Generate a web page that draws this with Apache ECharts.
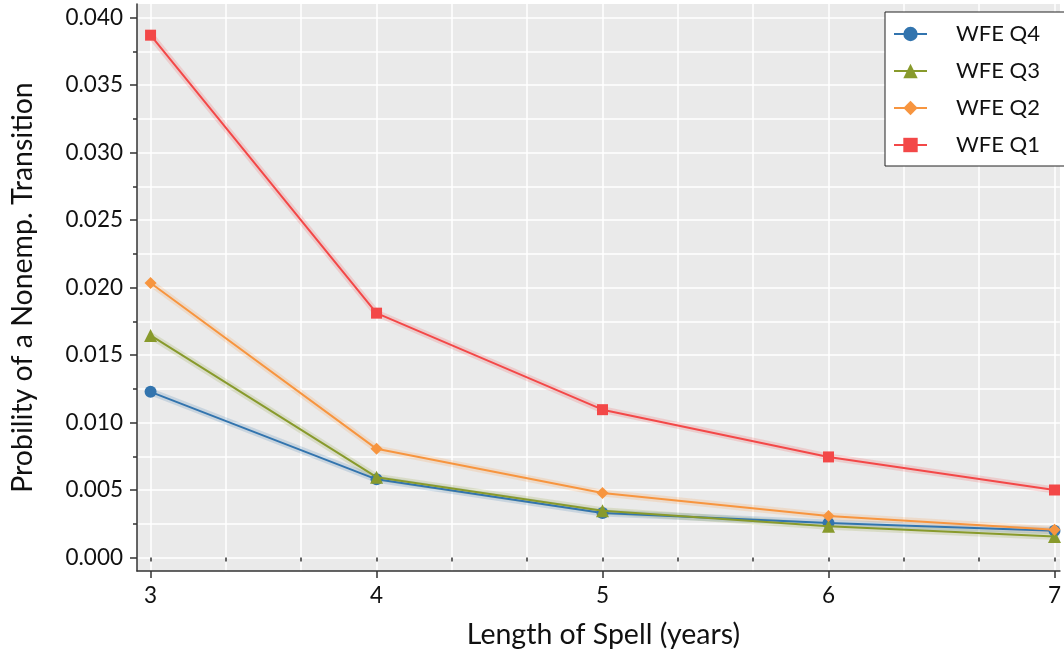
<!DOCTYPE html>
<html>
<head>
<meta charset="utf-8">
<script src="https://cdn.jsdelivr.net/npm/echarts@6/dist/echarts.min.js"></script>
<style>
  html, body { margin: 0; padding: 0; background: #ffffff; }
  #chart { width: 1064px; height: 656px; }
</style>
</head>
<body>
<div id="chart"></div>
<script>
// Length of spell (years) on the x axis
const spellYears = [3, 4, 5, 6, 7];

// Probability of a nonemployment transition, by WFE quartile
const wfeQ4 = [0.01227, 0.00579, 0.00330, 0.00255, 0.00199];
const wfeQ3 = [0.01645, 0.00595, 0.00347, 0.00231, 0.00155];
const wfeQ2 = [0.02033, 0.00805, 0.00477, 0.00307, 0.00205];
const wfeQ1 = [0.03869, 0.01810, 0.01095, 0.00745, 0.00500];

const seriesNames = ['WFE Q4', 'WFE Q3', 'WFE Q2', 'WFE Q1'];

// Tick positions
const xMajorTicks = [3, 4, 5, 6, 7];
const xAllTicks = [3, 3.3333, 3.6667, 4, 4.3333, 4.6667, 5, 5.3333, 5.6667, 6, 6.3333, 6.6667, 7];
const yMajorTicks = [0, 0.005, 0.010, 0.015, 0.020, 0.025, 0.030, 0.035, 0.040];
const yAllTicks = [0, 0.0025, 0.005, 0.0075, 0.010, 0.0125, 0.015, 0.0175, 0.020,
                   0.0225, 0.025, 0.0275, 0.030, 0.0325, 0.035, 0.0375, 0.040];

const colors = {
  'WFE Q4': '#3274ae',
  'WFE Q3': '#889a2c',
  'WFE Q2': '#f7953f',
  'WFE Q1': '#f34848'
};
const symbols = {
  'WFE Q4': 'circle',
  'WFE Q3': 'triangle',
  'WFE Q2': 'diamond',
  'WFE Q1': 'rect'
};
const sizes = {
  'WFE Q4': 12,
  'WFE Q3': 13,
  'WFE Q2': 12,
  'WFE Q1': 11
};
const values = { 'WFE Q4': wfeQ4, 'WFE Q3': wfeQ3, 'WFE Q2': wfeQ2, 'WFE Q1': wfeQ1 };

const FONT = 'Lato, "Open Sans", sans-serif';
const X_MIN = 2.94, X_MAX = 7.024, Y_MIN = -0.001, Y_MAX = 0.041;

function pairs(arr) {
  return spellYears.map((x, i) => [x, arr[i]]);
}

const series = [];
// soft bands under each line
seriesNames.forEach((name) => {
  series.push({
    name: name + ' band',
    type: 'line',
    data: pairs(values[name]),
    symbol: 'none',
    silent: true,
    z: 2,
    lineStyle: { color: colors[name], width: 7, opacity: 0.18 }
  });
});
seriesNames.forEach((name, k) => {
  series.push({
    name: name,
    type: 'line',
    data: pairs(values[name]),
    symbol: symbols[name],
    symbolSize: sizes[name],
    z: 3 + k,
    itemStyle: { color: colors[name] },
    lineStyle: { color: colors[name], width: 2 }
  });
});

const axisLineStyle = { color: '#333333', width: 1.5 };

const option = {
  animation: false,
  backgroundColor: '#ffffff',
  grid: {
    left: 135, right: 0, top: 4, bottom: 85,
    show: true, backgroundColor: '#eaeaea', borderWidth: 0
  },
  legend: {
    data: seriesNames,
    orient: 'vertical',
    left: 885, top: 12,
    padding: [11, 60, 10, 8],
    itemGap: 15,
    itemWidth: 33,
    itemHeight: 18,
    backgroundColor: '#ffffff',
    borderColor: '#222222',
    borderWidth: 1,
    borderRadius: 0,
    textStyle: { fontFamily: FONT, fontSize: 22, color: '#111111', lineHeight: 22, padding: [0, 0, 0, 24] }
  },
  xAxis: [
    {
      type: 'value', min: X_MIN, max: X_MAX, position: 'bottom',
      name: 'Length of Spell (years)', nameLocation: 'middle', nameGap: 49,
      nameTextStyle: { fontFamily: FONT, fontSize: 28.5, color: '#111111', padding: [0, 0, 0, 10] },
      axisLine: { show: true, onZero: false, lineStyle: axisLineStyle },
      axisTick: { show: true, customValues: xMajorTicks, length: 7, lineStyle: axisLineStyle },
      axisLabel: { customValues: xMajorTicks, margin: 13, fontFamily: FONT, fontSize: 22.5, color: '#111111' },
      splitLine: { show: false }
    },
    {
      type: 'value', min: X_MIN, max: X_MAX, position: 'bottom',
      axisLine: { show: false },
      axisTick: { show: true, customValues: xAllTicks, length: 4, lineStyle: axisLineStyle },
      axisLabel: { show: false },
      splitLine: { show: true, lineStyle: { color: '#ffffff', width: 1.5 } }
    }
  ],
  yAxis: [
    {
      type: 'value', min: Y_MIN, max: Y_MAX, position: 'left',
      name: 'Probility of a Nonemp. Transition', nameLocation: 'middle', nameGap: 100,
      nameTextStyle: { fontFamily: FONT, fontSize: 28.5, color: '#111111' },
      axisLine: { show: true, onZero: false, lineStyle: axisLineStyle },
      axisTick: { show: true, customValues: yMajorTicks, length: 7, lineStyle: axisLineStyle },
      axisLabel: {
        customValues: yMajorTicks, margin: 14,
        fontFamily: FONT, fontSize: 22.5, color: '#111111',
        formatter: (v) => v.toFixed(3)
      },
      splitLine: { show: false }
    },
    {
      type: 'value', min: Y_MIN, max: Y_MAX, position: 'left',
      axisLine: { show: false },
      axisTick: { show: true, customValues: yAllTicks, length: 4, lineStyle: axisLineStyle },
      axisLabel: { show: false },
      splitLine: { show: true, lineStyle: { color: '#ffffff', width: 1.5 } }
    }
  ],
  series: series
};

const chart = echarts.init(document.getElementById('chart'), null, { renderer: 'canvas' });
chart.setOption(option);
</script>
</body>
</html>
